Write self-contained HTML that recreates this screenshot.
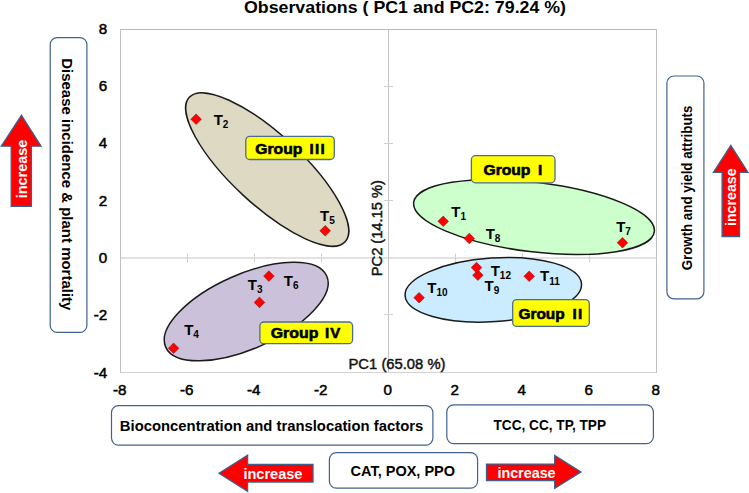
<!DOCTYPE html><html><head><meta charset="utf-8"><style>html,body{margin:0;padding:0;background:#fff;}svg{display:block;}text{font-family:"Liberation Sans",sans-serif;}</style></head><body>
<svg width="749" height="493" viewBox="0 0 749 493">
<rect width="749" height="493" fill="#fff"/>
<text x="244" y="12.5" font-size="16.9" font-weight="bold" fill="#000" textLength="322" lengthAdjust="spacingAndGlyphs">Observations ( PC1 and PC2: 79.24 %)</text>
<line x1="120" y1="29.5" x2="657" y2="29.5" stroke="#b9b9b9" stroke-width="1"/>
<line x1="120" y1="372.5" x2="657" y2="372.5" stroke="#d2d2d2" stroke-width="1"/>
<line x1="120.5" y1="29" x2="120.5" y2="373" stroke="#c2c2c2" stroke-width="1"/>
<line x1="656.5" y1="29" x2="656.5" y2="373" stroke="#c2c2c2" stroke-width="1"/>
<line x1="120.5" y1="258" x2="656.5" y2="258" stroke="#c6c6c6" stroke-width="1.1"/>
<line x1="388.5" y1="29.5" x2="388.5" y2="372" stroke="#c4c4c4" stroke-width="1"/>
<line x1="187.5" y1="253.5" x2="187.5" y2="262.5" stroke="#cfcfcf" stroke-width="1"/>
<line x1="254.5" y1="253.5" x2="254.5" y2="262.5" stroke="#cfcfcf" stroke-width="1"/>
<line x1="321.5" y1="253.5" x2="321.5" y2="262.5" stroke="#cfcfcf" stroke-width="1"/>
<line x1="455.5" y1="253.5" x2="455.5" y2="262.5" stroke="#cfcfcf" stroke-width="1"/>
<line x1="522.5" y1="253.5" x2="522.5" y2="262.5" stroke="#cfcfcf" stroke-width="1"/>
<line x1="589.5" y1="253.5" x2="589.5" y2="262.5" stroke="#cfcfcf" stroke-width="1"/>
<line x1="384" y1="314.5" x2="393" y2="314.5" stroke="#cfcfcf" stroke-width="1"/>
<line x1="384" y1="200.5" x2="393" y2="200.5" stroke="#cfcfcf" stroke-width="1"/>
<line x1="384" y1="143.5" x2="393" y2="143.5" stroke="#cfcfcf" stroke-width="1"/>
<line x1="384" y1="86.5" x2="393" y2="86.5" stroke="#cfcfcf" stroke-width="1"/>
<text x="107.2" y="33.6" font-size="15.2" stroke="#000" stroke-width="0.5" text-anchor="end">8</text>
<text x="107.2" y="90.9" font-size="15.2" stroke="#000" stroke-width="0.5" text-anchor="end">6</text>
<text x="107.2" y="148.3" font-size="15.2" stroke="#000" stroke-width="0.5" text-anchor="end">4</text>
<text x="107.2" y="205.6" font-size="15.2" stroke="#000" stroke-width="0.5" text-anchor="end">2</text>
<text x="107.2" y="262.9" font-size="15.2" stroke="#000" stroke-width="0.5" text-anchor="end">0</text>
<text x="107.2" y="320.3" font-size="15.2" stroke="#000" stroke-width="0.5" text-anchor="end">-2</text>
<text x="107.2" y="377.6" font-size="15.2" stroke="#000" stroke-width="0.5" text-anchor="end">-4</text>
<text x="119.7" y="394.9" font-size="15.2" stroke="#000" stroke-width="0.5" text-anchor="middle">-8</text>
<text x="186.7" y="394.9" font-size="15.2" stroke="#000" stroke-width="0.5" text-anchor="middle">-6</text>
<text x="253.7" y="394.9" font-size="15.2" stroke="#000" stroke-width="0.5" text-anchor="middle">-4</text>
<text x="320.7" y="394.9" font-size="15.2" stroke="#000" stroke-width="0.5" text-anchor="middle">-2</text>
<text x="387.7" y="394.9" font-size="15.2" stroke="#000" stroke-width="0.5" text-anchor="middle">0</text>
<text x="454.7" y="394.9" font-size="15.2" stroke="#000" stroke-width="0.5" text-anchor="middle">2</text>
<text x="521.7" y="394.9" font-size="15.2" stroke="#000" stroke-width="0.5" text-anchor="middle">4</text>
<text x="588.7" y="394.9" font-size="15.2" stroke="#000" stroke-width="0.5" text-anchor="middle">6</text>
<text x="655.7" y="394.9" font-size="15.2" stroke="#000" stroke-width="0.5" text-anchor="middle">8</text>
<ellipse cx="267.24" cy="169.52" rx="106.22" ry="35.21" transform="rotate(42.81 267.24 169.52)" fill="#ddd9c3" stroke="#1a1a1a" stroke-width="1.5"/>
<ellipse cx="246.22" cy="311.57" rx="87.99" ry="37.24" transform="rotate(-23.8 246.22 311.57)" fill="#ccc1da" stroke="#1a1a1a" stroke-width="1.5"/>
<ellipse cx="534.0" cy="217.0" rx="121.2" ry="34.8" transform="rotate(6.9 534.0 217.0)" fill="#ccffcc" stroke="#1a1a1a" stroke-width="1.5"/>
<ellipse cx="493.3" cy="289.8" rx="88.4" ry="31.8" transform="rotate(-3.9 493.3 289.8)" fill="#cbebff" stroke="#1a1a1a" stroke-width="1.5"/>
<text x="348.5" y="368.7" font-size="14.8" fill="#111" stroke="#111" stroke-width="0.45" textLength="97" lengthAdjust="spacingAndGlyphs">PC1 (65.08 %)</text>
<text transform="translate(381.8 276.2) rotate(-90)" x="0" y="0" font-size="14.8" fill="#111" stroke="#111" stroke-width="0.45" textLength="96" lengthAdjust="spacingAndGlyphs">PC2 (14.15 %)</text>
<polygon points="443.2,216.0 448.5,221.3 443.2,226.6 437.9,221.3" fill="#ff0000" stroke="#9a1020" stroke-width="0.6"/>
<polygon points="196.1,113.9 201.4,119.2 196.1,124.5 190.8,119.2" fill="#ff0000" stroke="#9a1020" stroke-width="0.6"/>
<polygon points="259.5,297.1 264.8,302.4 259.5,307.7 254.2,302.4" fill="#ff0000" stroke="#9a1020" stroke-width="0.6"/>
<polygon points="173.6,343.0 178.9,348.3 173.6,353.6 168.3,348.3" fill="#ff0000" stroke="#9a1020" stroke-width="0.6"/>
<polygon points="325.2,225.5 330.5,230.8 325.2,236.1 319.9,230.8" fill="#ff0000" stroke="#9a1020" stroke-width="0.6"/>
<polygon points="268.9,270.8 274.2,276.1 268.9,281.4 263.6,276.1" fill="#ff0000" stroke="#9a1020" stroke-width="0.6"/>
<polygon points="622.5,237.4 627.8,242.7 622.5,248.0 617.2,242.7" fill="#ff0000" stroke="#9a1020" stroke-width="0.6"/>
<polygon points="469.3,233.2 474.6,238.5 469.3,243.8 464.0,238.5" fill="#ff0000" stroke="#9a1020" stroke-width="0.6"/>
<polygon points="477.9,269.9 483.2,275.2 477.9,280.5 472.6,275.2" fill="#ff0000" stroke="#9a1020" stroke-width="0.6"/>
<polygon points="419.1,292.4 424.4,297.7 419.1,303.0 413.8,297.7" fill="#ff0000" stroke="#9a1020" stroke-width="0.6"/>
<polygon points="529.2,271.0 534.5,276.3 529.2,281.6 523.9,276.3" fill="#ff0000" stroke="#9a1020" stroke-width="0.6"/>
<polygon points="476.5,262.3 481.8,267.6 476.5,272.9 471.2,267.6" fill="#ff0000" stroke="#9a1020" stroke-width="0.6"/>
<text x="451.3" y="216.5" font-size="15" font-weight="bold">T<tspan font-size="10" dy="3.2">1</tspan></text>
<text x="213.7" y="124.8" font-size="15" font-weight="bold">T<tspan font-size="10" dy="3.2">2</tspan></text>
<text x="247.8" y="289.9" font-size="15" font-weight="bold">T<tspan font-size="10" dy="3.2">3</tspan></text>
<text x="184.2" y="334.6" font-size="15" font-weight="bold">T<tspan font-size="10" dy="3.2">4</tspan></text>
<text x="320.1" y="221.2" font-size="15" font-weight="bold">T<tspan font-size="10" dy="3.2">5</tspan></text>
<text x="283.8" y="285.8" font-size="15" font-weight="bold">T<tspan font-size="10" dy="3.2">6</tspan></text>
<text x="616.2" y="232.2" font-size="15" font-weight="bold">T<tspan font-size="10" dy="3.2">7</tspan></text>
<text x="485.7" y="239.2" font-size="15" font-weight="bold">T<tspan font-size="10" dy="3.2">8</tspan></text>
<text x="484.6" y="290.6" font-size="15" font-weight="bold">T<tspan font-size="10" dy="3.2">9</tspan></text>
<text x="427.3" y="293.1" font-size="15" font-weight="bold">T<tspan font-size="10" dy="3.2">10</tspan></text>
<text x="540.0" y="281.3" font-size="15" font-weight="bold">T<tspan font-size="10" dy="3.2">11</tspan></text>
<text x="490.7" y="275.8" font-size="15" font-weight="bold">T<tspan font-size="10" dy="3.2">12</tspan></text>
<rect x="245.8" y="136.3" width="88.5" height="23.2" rx="4" fill="#ffff00" stroke="#4d6b94" stroke-width="1.3"/>
<text x="255.27" y="153.6" font-size="15" font-weight="bold" stroke="#000" stroke-width="0.6" textLength="47.05" lengthAdjust="spacingAndGlyphs">Group</text>
<text x="311.5" y="153.6" font-size="15" font-weight="bold" stroke="#000" stroke-width="0.6" text-anchor="middle">I</text>
<text x="317.1" y="153.6" font-size="15" font-weight="bold" stroke="#000" stroke-width="0.6" text-anchor="middle">I</text>
<text x="322.7" y="153.6" font-size="15" font-weight="bold" stroke="#000" stroke-width="0.6" text-anchor="middle">I</text>
<rect x="259.9" y="322" width="92.7" height="21.7" rx="4" fill="#ffff00" stroke="#4d6b94" stroke-width="1.3"/>
<text x="270.77" y="338" font-size="15" font-weight="bold" stroke="#000" stroke-width="0.6" textLength="47.56" lengthAdjust="spacingAndGlyphs">Group</text>
<text x="327.05" y="338" font-size="15" font-weight="bold" stroke="#000" stroke-width="0.6" text-anchor="middle">I</text>
<text x="335.35" y="338" font-size="15" font-weight="bold" stroke="#000" stroke-width="0.6" text-anchor="middle">V</text>
<rect x="471.4" y="155.7" width="83.6" height="27.1" rx="4" fill="#ffff00" stroke="#4d6b94" stroke-width="1.3"/>
<text x="483.47" y="174.6" font-size="15.2" font-weight="bold" stroke="#000" stroke-width="0.6" textLength="46.94" lengthAdjust="spacingAndGlyphs">Group</text>
<text x="540" y="174.6" font-size="15.2" font-weight="bold" stroke="#000" stroke-width="0.6" text-anchor="middle">I</text>
<rect x="512.7" y="299.6" width="76.6" height="26.8" rx="4" fill="#ffff00" stroke="#4d6b94" stroke-width="1.3"/>
<text x="518.48" y="318.5" font-size="15.2" font-weight="bold" stroke="#000" stroke-width="0.6" textLength="46.23" lengthAdjust="spacingAndGlyphs">Group</text>
<text x="574.6" y="318.5" font-size="15.2" font-weight="bold" stroke="#000" stroke-width="0.6" text-anchor="middle">I</text>
<text x="580.2" y="318.5" font-size="15.2" font-weight="bold" stroke="#000" stroke-width="0.6" text-anchor="middle">I</text>
<rect x="50.2" y="37.6" width="36.7" height="294.8" rx="7" fill="#fff" stroke="#41618f" stroke-width="1.2"/>
<rect x="666.9" y="76" width="37.0" height="222.8" rx="7" fill="#fff" stroke="#41618f" stroke-width="1.2"/>
<rect x="111.5" y="405.6" width="321.4" height="39.5" rx="7" fill="#fff" stroke="#41618f" stroke-width="1.2"/>
<rect x="446.8" y="404.8" width="206.6" height="38.8" rx="7" fill="#fff" stroke="#41618f" stroke-width="1.2"/>
<rect x="329.4" y="452.6" width="148.2" height="35.6" rx="7" fill="#fff" stroke="#41618f" stroke-width="1.2"/>
<text x="119.84" y="430.6" font-size="14.9" font-weight="bold"  textLength="303.4" lengthAdjust="spacingAndGlyphs">Bioconcentration and translocation factors</text>
<text x="493.56" y="429.6" font-size="14.9" font-weight="bold"  textLength="112.45" lengthAdjust="spacingAndGlyphs">TCC, CC, TP, TPP</text>
<text x="350.52" y="475.7" font-size="14.9" font-weight="bold"  textLength="104.54" lengthAdjust="spacingAndGlyphs">CAT, POX, PPO</text>
<text transform="translate(62 58.23) rotate(90)" font-size="14.8" font-weight="bold" fill="#000" textLength="252.14" lengthAdjust="spacingAndGlyphs">Disease incidence &amp; plant mortality</text>
<text transform="translate(691.5 270.33) rotate(-90)" font-size="14.8" font-weight="bold" fill="#000" textLength="164.66" lengthAdjust="spacingAndGlyphs">Growth and yield attributs</text>
<polygon points="21.5,115.3 41,146.2 31.4,146.2 31.4,206.4 11.2,206.4 11.2,146.2 1.3,146.2" fill="#ff0000" stroke="#3f5f8c" stroke-width="1.3" stroke-linejoin="miter"/>
<polygon points="730.8,145.4 748,172.4 739.5,172.4 739.5,236.6 722.1,236.6 722.1,172.4 713.4,172.4" fill="#ff0000" stroke="#3f5f8c" stroke-width="1.3" stroke-linejoin="miter"/>
<polygon points="219,473.3 247.6,455.3 247.6,464.4 313,464.4 313,482 247.6,482 247.6,491.4" fill="#ff0000" stroke="#3f5f8c" stroke-width="1.3" stroke-linejoin="miter"/>
<polygon points="486.5,464.1 554.7,464.1 554.7,455.4 581,471.9 554.7,488.4 554.7,480.6 486.5,480.6" fill="#ff0000" stroke="#3f5f8c" stroke-width="1.3" stroke-linejoin="miter"/>
<text x="243.4" y="479.2" font-size="15.4" font-weight="bold" fill="#fff" textLength="59" lengthAdjust="spacingAndGlyphs">increase</text>
<text x="497.4" y="477.7" font-size="15.4" font-weight="bold" fill="#fff" textLength="58.2" lengthAdjust="spacingAndGlyphs">increase</text>
<text transform="translate(27.1 198.3) rotate(-90)" font-size="15.4" font-weight="bold" fill="#fff" textLength="58.6" lengthAdjust="spacingAndGlyphs">increase</text>
<text transform="translate(736.4 226) rotate(-90)" font-size="15.4" font-weight="bold" fill="#fff" textLength="57.6" lengthAdjust="spacingAndGlyphs">increase</text>
</svg></body></html>
